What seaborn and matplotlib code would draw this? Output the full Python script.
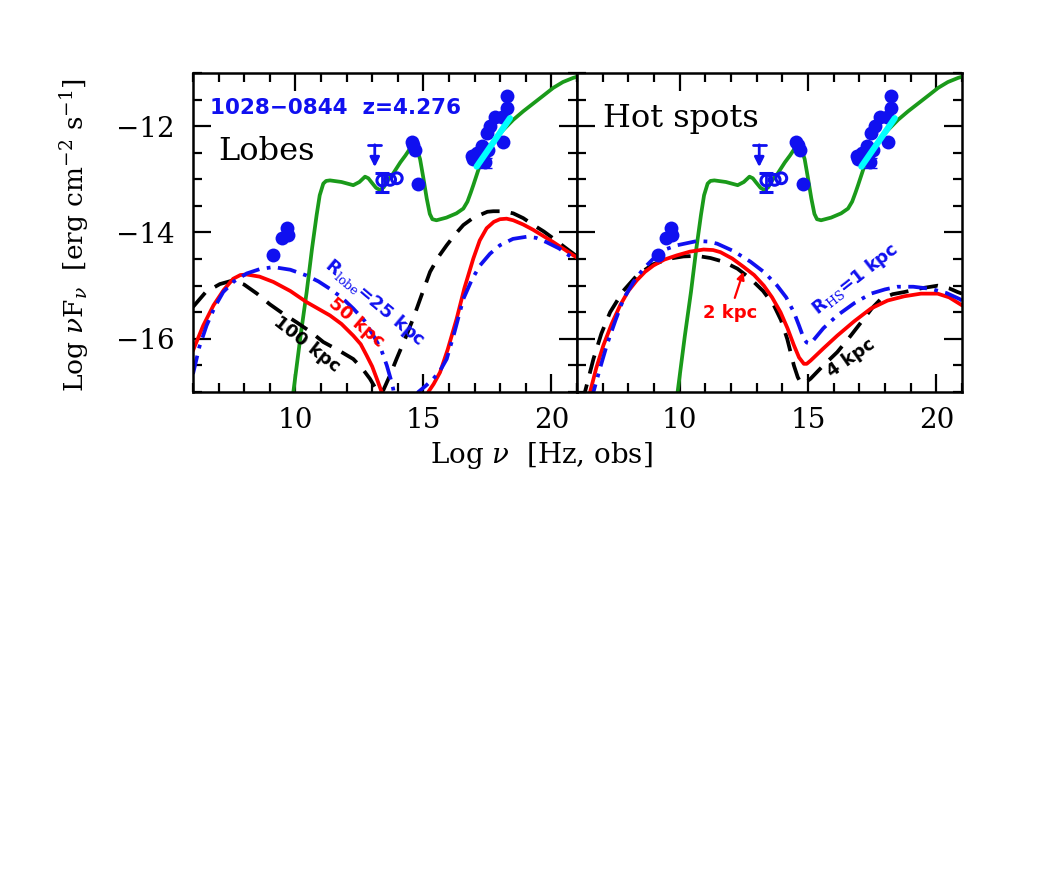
"""
SED of 1028-0844 (z=4.276): jet model plus lobe / hot-spot emission,
two panels sharing the y axis.
"""
import matplotlib
matplotlib.use("Agg")
import matplotlib.pyplot as plt
from matplotlib.ticker import MultipleLocator
import seaborn as sns

# 1. Data (log nu [Hz], log nuFnu [erg cm^-2 s^-1])
jet_x = [9.85, 9.92, 10.2, 10.44, 10.65, 10.83, 10.95, 11.09, 11.2, 11.35, 11.8, 12.26, 12.5, 12.72,
         12.85, 12.98, 13.15, 13.30, 13.45, 13.6, 13.82, 14.1, 14.3, 14.48, 14.62, 14.74, 14.87,
         15.0, 15.13, 15.25, 15.35, 15.51, 15.9, 16.29, 16.56, 16.72, 16.85, 16.95, 17.21, 17.45,
         17.73, 18.1, 18.51, 18.9, 19.3, 19.7, 20.07, 20.45, 20.86, 21.0]
jet_y = [-17.3, -17.0, -15.95, -15.12, -14.3, -13.67, -13.3, -13.08, -13.03, -13.02, -13.05, -13.11,
         -13.05, -12.95, -12.98, -13.06, -13.16, -13.20, -13.15, -13.02, -12.89, -12.68, -12.55,
         -12.42, -12.38, -12.42, -12.62, -12.98, -13.36, -13.65, -13.75, -13.77, -13.72, -13.64,
         -13.55, -13.42, -13.25, -13.11, -12.73, -12.5, -12.29, -12.08, -11.88, -11.72, -11.57,
         -11.42, -11.28, -11.17, -11.09, -11.07]

# lobes (left panel)
lobe50_x = [6.0, 6.4, 6.8, 7.2, 7.57, 7.85, 8.1, 8.6, 9.14, 9.8, 10.44, 11.35, 11.8, 12.26, 12.55,
            12.78, 13.0, 13.18, 13.37, 13.45]
lobe50_y = [-16.22, -15.75, -15.37, -15.08, -14.87, -14.8, -14.79, -14.83, -14.93, -15.1, -15.31,
            -15.56, -15.72, -15.94, -16.1, -16.31, -16.52, -16.75, -17.0, -17.2]
lobe50_hx = [15.1, 15.19, 15.4, 15.65, 15.95, 16.3, 16.6, 16.95, 17.2, 17.47, 17.75, 17.99, 18.25,
             18.51, 18.9, 19.29, 20.07, 20.86, 21.0]
lobe50_hy = [-17.2, -17.0, -16.85, -16.63, -16.2, -15.62, -15.05, -14.49, -14.15, -13.92, -13.8,
             -13.75, -13.74, -13.77, -13.85, -13.95, -14.18, -14.43, -14.47]

lobe100_x = [6.0, 6.5, 7.05, 7.57, 8.0, 8.5, 9.0, 9.5, 10.05, 10.6, 11.09, 11.7, 12.26, 12.6, 12.91,
             13.18, 13.3, 13.44, 13.7, 13.95, 14.3, 14.6, 14.95, 15.26, 15.6, 15.91, 16.25, 16.56,
             16.9, 17.21, 17.5, 17.73, 18.1, 18.51, 18.9, 19.3, 19.7, 20.07, 20.5, 20.86, 21.0]
lobe100_y = [-15.4, -15.12, -14.97, -14.9, -14.98, -15.15, -15.35, -15.52, -15.69, -15.87, -16.06,
             -16.22, -16.38, -16.55, -16.75, -16.97, -17.05, -16.96, -16.68, -16.38, -15.98, -15.62,
             -15.15, -14.74, -14.45, -14.24, -14.03, -13.86, -13.74, -13.67, -13.61, -13.6, -13.6,
             -13.64, -13.73, -13.86, -13.98, -14.11, -14.27, -14.4, -14.45]

lobe25_x = [6.0, 6.25, 6.53, 6.85, 7.18, 7.6, 8.1, 8.6, 9.14, 9.8, 10.44, 10.9, 11.35, 11.8, 12.26,
            12.7, 13.05, 13.35, 13.57, 13.72, 13.82, 13.9]
lobe25_y = [-16.66, -16.15, -15.75, -15.4, -15.12, -14.92, -14.77, -14.69, -14.65, -14.7, -14.81,
            -14.92, -15.06, -15.22, -15.43, -15.66, -15.94, -16.2, -16.5, -16.75, -16.94, -17.2]
lobe25_hx = [14.7, 14.8, 15.1, 15.39, 15.65, 15.91, 16.2, 16.56, 16.9, 17.21, 17.6, 17.99, 18.5,
             19.03, 19.4, 19.8, 20.3, 20.86, 21.0]
lobe25_hy = [-17.1, -17.0, -16.88, -16.75, -16.6, -16.38, -15.9, -15.25, -14.88, -14.62, -14.4,
             -14.24, -14.12, -14.08, -14.1, -14.18, -14.3, -14.49, -14.52]

# hot spots (right panel)
hs2_x = [6.4, 6.51, 6.75, 7.03, 7.35, 7.68, 8.0, 8.33, 8.65, 8.98, 9.4, 9.89, 10.4, 10.93, 11.3,
         11.59, 12.05, 12.5, 12.9, 13.28, 13.6, 13.93, 14.2, 14.45, 14.65, 14.84, 14.95, 15.1,
         15.6, 16.14, 16.8, 17.45, 18.1, 18.75, 19.4, 20.05, 20.5, 20.9, 21.0]
hs2_y = [-17.2, -17.0, -16.55, -16.12, -15.72, -15.37, -15.1, -14.9, -14.74, -14.62, -14.51, -14.43,
         -14.36, -14.32, -14.33, -14.37, -14.49, -14.65, -14.8, -15.0, -15.22, -15.5, -15.8, -16.12,
         -16.35, -16.47, -16.47, -16.41, -16.18, -15.94, -15.67, -15.43, -15.28, -15.2, -15.15,
         -15.15, -15.22, -15.34, -15.37]

hs4_x = [6.2, 6.31, 6.64, 6.95, 7.29, 7.8, 8.33, 8.95, 9.63, 10.15, 10.68, 11.2, 11.71, 12.25, 12.76,
         13.25, 13.67, 13.95, 14.19, 14.45, 14.6, 14.71, 14.85, 15.1, 15.6, 16.14, 16.65, 17.18,
         17.5, 17.84, 18.3, 18.75, 19.4, 20.05, 20.5, 20.83, 21.0]
hs4_y = [-17.2, -17.0, -16.38, -15.9, -15.5, -15.1, -14.81, -14.6, -14.49, -14.45, -14.44, -14.48,
         -14.55, -14.68, -14.87, -15.1, -15.37, -15.65, -16.0, -16.5, -16.72, -16.82, -16.84,
         -16.75, -16.5, -16.25, -15.95, -15.62, -15.42, -15.25, -15.16, -15.12, -15.05, -15.0,
         -15.05, -15.12, -15.15]

hs1_x = [6.55, 6.64, 6.9, 7.16, 7.5, 7.81, 8.2, 8.59, 9.0, 9.37, 9.9, 10.68, 11.1, 11.46, 12.1,
         12.76, 13.3, 13.8, 14.15, 14.45, 14.65, 14.84, 14.95, 15.1, 15.6, 16.14, 16.8, 17.45,
         18.0, 18.49, 19.1, 19.79, 20.4, 20.9, 21.0]
hs1_y = [-17.2, -17.0, -16.55, -16.12, -15.65, -15.25, -14.93, -14.68, -14.48, -14.33, -14.24,
         -14.16, -14.17, -14.21, -14.35, -14.55, -14.75, -15.0, -15.22, -15.5, -15.75, -16.0,
         -16.07, -16.09, -15.8, -15.56, -15.33, -15.15, -15.07, -15.02, -15.02, -15.06, -15.14,
         -15.25, -15.28]

# observed points
radio_x = [9.14, 9.46, 9.72, 9.66]
radio_y = [-14.43, -14.11, -14.05, -13.92]
ir_x = [13.7, 13.96]
ir_y = [-13.01, -12.98]
ir_err_x, ir_err_y, ir_err_lo, ir_err_hi = 13.37, -13.01, 0.22, 0.12
ul_x, ul_y = 13.1, -12.35
opt_x = [14.54, 14.6, 14.67, 14.8]
opt_y = [-12.29, -12.36, -12.45, -13.08]
xray_x = [18.25, 18.25, 17.8, 18.06, 17.6, 17.47, 17.28, 16.89, 18.12, 17.54, 17.41, 17.1, 16.95]
xray_y = [-11.44, -11.66, -11.82, -11.82, -12.0, -12.13, -12.38, -12.57, -12.29, -12.45, -12.67,
          -12.5, -12.62]
bat_x = [17.08, 18.38]
bat_y = [-12.76, -11.85]

BLUE = "#1010f0"
GREEN = "#1a9a1a"
RED = "#ff0000"
SERIF = "DejaVu Serif"
LW = 2.7

# 2. Figure
sns.set_style("ticks")
plt.rcParams["font.family"] = [SERIF]
plt.rcParams["mathtext.fontset"] = "dejavuserif"
plt.rcParams["text.color"] = "black"

fig = plt.figure(figsize=(10.46, 8.72), dpi=100)
axL = fig.add_axes([193 / 1046, 1 - 392 / 872, 384 / 1046, 319 / 872])
axR = fig.add_axes([577 / 1046, 1 - 392 / 872, 385 / 1046, 319 / 872])


def curve(ax, x, y, color, style):
    kw = dict(color=color, lw=LW, sort=False, estimator=None, ax=ax, legend=False)
    line = sns.lineplot(x=x, y=y, **kw).lines[-1]
    if style == "dash":
        line.set_dashes((5, 3))
    elif style == "dashdot":
        line.set_dashes((5, 2, 1, 2))


def data_points(ax):
    sns.lineplot(x=jet_x, y=jet_y, color=GREEN, lw=LW, sort=False, estimator=None, ax=ax)
    sns.scatterplot(x=radio_x + opt_x + xray_x, y=radio_y + opt_y + xray_y, ax=ax,
                    color=BLUE, s=100, edgecolor=BLUE, linewidth=0, zorder=5)
    sns.scatterplot(x=ir_x, y=ir_y, ax=ax, facecolor="none", edgecolor=BLUE,
                    s=60, linewidth=2.2, zorder=5)
    ax.errorbar(ir_err_x, ir_err_y, yerr=[[ir_err_lo], [ir_err_hi]], fmt="o", mfc="none",
                mec=BLUE, ms=8, mew=2.2, color=BLUE, capsize=5, elinewidth=2, zorder=5)
    ax.plot([ul_x - 0.25, ul_x + 0.25], [ul_y, ul_y], color=BLUE, lw=2)
    ax.annotate("", xy=(ul_x, ul_y - 0.42), xytext=(ul_x, ul_y),
                arrowprops=dict(arrowstyle="-|>", color=BLUE, lw=2, mutation_scale=14,
                                shrinkA=0, shrinkB=0))
    ax.errorbar(17.4, -12.6, yerr=[[0.18], [0.0]], fmt="none", ecolor=BLUE, capsize=5, elinewidth=2)
    sns.lineplot(x=bat_x, y=bat_y, color="cyan", lw=4.5, ax=ax, zorder=6)


def style_axis(ax, left_labels):
    ax.set_xlim(6, 21)
    ax.set_ylim(-17, -11)
    ax.xaxis.set_minor_locator(MultipleLocator(1))
    ax.yaxis.set_minor_locator(MultipleLocator(0.5))
    ax.tick_params(which="both", direction="in", top=True, right=True, width=1.6,
                   labelsize=20, colors="black")
    ax.tick_params(axis="x", pad=11)
    ax.tick_params(axis="y", pad=13)
    ax.tick_params(which="major", length=13)
    ax.tick_params(which="minor", length=6.5)
    for s in ax.spines.values():
        s.set_linewidth(1.8)
        s.set_color("black")
        s.set_visible(True)
    ax.set_xlabel("")
    ax.set_ylabel("")
    ax.set_xticks([10, 15, 20])
    ax.set_xticklabels(["10", "15", "20"])
    ax.set_yticks([-16, -14, -12])
    if left_labels:
        ax.set_yticklabels(["\u221216", "\u221214", "\u221212"])
    else:
        ax.set_yticklabels([])


# left: lobes
data_points(axL)
curve(axL, lobe100_x, lobe100_y, "black", "dash")
curve(axL, lobe50_x, lobe50_y, RED, "solid")
curve(axL, lobe50_hx, lobe50_hy, RED, "solid")
curve(axL, lobe25_x, lobe25_y, BLUE, "dashdot")
curve(axL, lobe25_hx, lobe25_hy, BLUE, "dashdot")
style_axis(axL, True)

# right: hot spots
data_points(axR)
curve(axR, hs4_x, hs4_y, "black", "dash")
curve(axR, hs2_x, hs2_y, RED, "solid")
curve(axR, hs1_x, hs1_y, BLUE, "dashdot")
style_axis(axR, False)

# 3. Annotations
bold = dict(family="DejaVu Sans", weight="bold")
axL.text(6.65, -11.66, "1028\u22120844  z=4.276", color=BLUE, fontsize=15.5, va="center", **bold)
axL.text(7.0, -12.48, "Lobes", color="black", fontsize=23, va="center", family=SERIF)
axR.text(7.0, -11.85, "Hot spots", color="black", fontsize=23, va="center", family=SERIF)

axL.text(10.95, -14.72, r"R$_{\rm lobe}$=25 kpc", color=BLUE, fontsize=13, rotation=-40,
         rotation_mode="anchor", va="bottom", ha="left", **bold)
axL.text(11.15, -15.42, "50 kpc", color=RED, fontsize=13, rotation=-40,
         rotation_mode="anchor", va="bottom", ha="left", **bold)
axL.text(9.0, -15.78, "100 kpc", color="black", fontsize=13, rotation=-38,
         rotation_mode="anchor", va="bottom", ha="left", **bold)

axR.text(15.5, -15.65, r"R$_{\rm HS}$=1 kpc", color=BLUE, fontsize=13, rotation=38,
         rotation_mode="anchor", va="bottom", ha="left", **bold)
axR.text(16.0, -16.8, "4 kpc", color="black", fontsize=13, rotation=35,
         rotation_mode="anchor", va="bottom", ha="left", **bold)
axR.annotate("2 kpc", xy=(12.48, -14.74), xytext=(10.9, -15.68), color=RED, fontsize=13,
             **bold, arrowprops=dict(arrowstyle="-|>", color=RED, lw=1.6, mutation_scale=11,
                                     shrinkA=2, shrinkB=0),
             ha="left", va="bottom")

fig.text(541 / 1046, 1 - 455 / 872, r"Log $\nu$  [Hz, obs]", ha="center", va="center",
         fontsize=20, family=SERIF, color="black")
fig.text(75 / 1046, 1 - 235 / 872, r"Log $\nu$F$_\nu$  [erg cm$^{-2}$ s$^{-1}$]", rotation=90,
         ha="center", va="center", fontsize=19, family=SERIF, color="black")

fig.savefig("out.png", dpi=100)
